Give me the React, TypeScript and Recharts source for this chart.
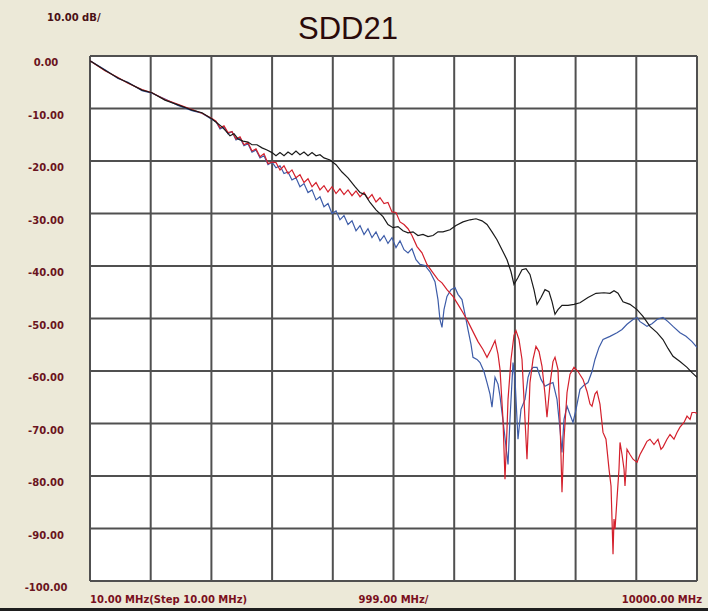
import React from 'react';
import { LineChart, Line, XAxis, YAxis, CartesianGrid } from 'recharts';

// SDD21 sweep, 10 MHz .. 10000 MHz, values in dB

const xGrid = [10, 1009, 2008, 3007, 4006, 5005, 6004, 7003, 8002, 9001, 10000];
const yTicks = [0, -10, -20, -30, -40, -50, -60, -70, -80, -90, -100];
const xLabels = ['10.00 MHz(Step 10.00 MHz)', '999.00 MHz/', '10000.00 MHz'];

const blackTrace: [number, number][] = [
  [10, -0.9], [257, -2.7], [471, -4.2], [635, -5.1], [866, -6.5], [1030, -7.0], [1244, -8.4],
  [1458, -9.3], [1689, -10.3], [1853, -10.8], [2018, -12.0], [2117, -12.9], [2182, -13.5],
  [2248, -14.3], [2314, -15.2], [2380, -14.8], [2446, -15.8], [2528, -16.2], [2610, -16.4],
  [2676, -16.9], [2758, -16.9], [2841, -17.5], [2923, -17.9], [3006, -18.4], [3071, -19.0],
  [3137, -18.4], [3203, -19.0], [3269, -18.3], [3334, -18.8], [3400, -18.1], [3466, -18.8],
  [3532, -18.3], [3598, -19.0], [3664, -18.4], [3730, -19.0], [3795, -18.8], [3861, -19.4],
  [3960, -19.8], [4059, -20.7], [4157, -22.1], [4256, -23.2], [4371, -24.9], [4454, -26.0],
  [4536, -26.4], [4618, -27.9], [4717, -29.3], [4832, -30.6], [4914, -32.1], [4997, -32.7],
  [5079, -32.5], [5161, -33.3], [5244, -33.7], [5326, -33.5], [5408, -34.2], [5490, -34.0],
  [5573, -34.4], [5655, -34.2], [5737, -33.5], [5819, -33.5], [5935, -33.1], [6033, -32.3],
  [6149, -31.6], [6264, -31.2], [6363, -31.0], [6462, -31.4], [6544, -32.1], [6626, -33.5],
  [6708, -35.0], [6791, -36.9], [6873, -38.8], [6939, -41.1], [6988, -43.5], [7054, -42.2],
  [7120, -40.7], [7186, -40.5], [7251, -41.6], [7317, -44.5], [7367, -47.3], [7433, -46.0],
  [7498, -44.5], [7564, -44.9], [7614, -46.8], [7663, -49.2], [7712, -48.3], [7778, -47.5],
  [7877, -47.5], [7976, -47.3], [8074, -47.0], [8206, -46.0], [8338, -45.2], [8469, -45.1],
  [8568, -45.2], [8634, -44.7], [8700, -45.2], [8782, -46.8], [8897, -47.3], [9013, -48.3],
  [9111, -49.6], [9226, -51.5], [9342, -52.7], [9440, -54.0], [9523, -55.7], [9605, -57.2],
  [9720, -58.2], [9836, -59.3], [9918, -60.3], [10000, -61.2],
];

const blueTrace: [number, number][] = [
  [10, -0.9], [257, -2.6], [471, -4.3], [635, -5.0], [866, -6.6], [1030, -7.1], [1244, -8.2],
  [1458, -9.4], [1689, -10.4], [1853, -10.9], [2018, -12.1], [2084, -12.5], [2150, -13.9],
  [2215, -13.5], [2281, -14.8], [2347, -14.4], [2413, -16.0], [2479, -15.6], [2544, -17.1],
  [2610, -16.7], [2676, -18.3], [2742, -17.9], [2808, -19.4], [2874, -19.0], [2940, -20.7],
  [3006, -20.2], [3071, -21.3], [3137, -20.9], [3203, -22.4], [3269, -22.1], [3334, -23.6],
  [3400, -23.2], [3466, -24.9], [3532, -24.3], [3598, -26.0], [3664, -25.5], [3730, -27.4],
  [3795, -26.8], [3861, -28.7], [3927, -28.1], [3993, -30.0], [4059, -29.5], [4124, -31.2],
  [4190, -30.4], [4256, -32.1], [4322, -31.4], [4388, -33.3], [4454, -32.3], [4520, -34.0],
  [4585, -32.9], [4651, -34.6], [4717, -33.5], [4783, -35.2], [4849, -34.2], [4914, -35.7],
  [4980, -34.6], [5046, -36.5], [5112, -35.2], [5178, -36.9], [5244, -37.5], [5309, -36.7],
  [5375, -38.8], [5441, -39.7], [5523, -39.9], [5606, -41.1], [5688, -43.0], [5737, -46.4],
  [5770, -50.2], [5803, -51.7], [5836, -48.3], [5885, -45.8], [5951, -44.5], [6017, -44.1],
  [6066, -45.4], [6132, -46.4], [6182, -49.2], [6231, -52.1], [6280, -54.9], [6313, -57.4],
  [6379, -57.8], [6429, -58.4], [6494, -60.1], [6544, -62.2], [6593, -64.4], [6626, -66.9],
  [6676, -61.2], [6725, -62.5], [6758, -64.8], [6824, -71.1], [6890, -77.8], [6922, -69.2],
  [6972, -58.4], [7005, -61.6], [7054, -73.0], [7103, -67.3], [7169, -65.4], [7219, -61.2],
  [7251, -60.1], [7301, -59.3], [7367, -59.3], [7433, -61.6], [7498, -62.9], [7564, -62.5],
  [7630, -62.2], [7696, -65.4], [7745, -71.1], [7778, -75.5], [7811, -69.2], [7861, -66.7],
  [7910, -68.3], [7959, -69.8], [8009, -67.3], [8074, -63.5], [8140, -62.7], [8206, -62.2],
  [8272, -60.1], [8321, -57.8], [8387, -55.5], [8453, -54.0], [8568, -53.4], [8683, -52.7],
  [8766, -52.1], [8848, -51.1], [8947, -50.2], [9013, -49.8], [9062, -50.6], [9128, -51.1],
  [9177, -51.5], [9259, -51.0], [9342, -50.2], [9440, -49.8], [9523, -50.6], [9605, -51.5],
  [9720, -52.7], [9819, -53.4], [9918, -54.4], [10000, -55.5],
];

const redTrace: [number, number][] = [
  [10, -0.9], [257, -2.8], [471, -4.1], [635, -5.2], [866, -6.4], [1030, -7.0], [1244, -8.3],
  [1458, -9.2], [1689, -10.2], [1853, -10.9], [2018, -11.9], [2084, -12.4], [2150, -13.7],
  [2215, -13.3], [2281, -14.6], [2347, -14.4], [2413, -15.8], [2479, -15.4], [2544, -16.9],
  [2610, -16.5], [2676, -18.1], [2742, -17.7], [2808, -19.2], [2874, -18.6], [2940, -20.5],
  [3006, -20.2], [3071, -20.3], [3137, -21.7], [3203, -20.9], [3269, -22.4], [3334, -21.7],
  [3400, -23.2], [3466, -22.6], [3532, -24.1], [3598, -23.4], [3664, -24.9], [3730, -24.1],
  [3795, -25.5], [3861, -24.7], [3927, -25.9], [3993, -24.9], [4059, -26.2], [4124, -25.3],
  [4190, -26.4], [4256, -25.5], [4322, -26.6], [4388, -25.7], [4454, -26.8], [4520, -26.0],
  [4585, -27.2], [4651, -26.4], [4717, -27.8], [4783, -27.0], [4849, -28.1], [4914, -27.9],
  [4980, -29.7], [5046, -29.8], [5112, -31.6], [5178, -32.1], [5244, -32.9], [5309, -34.2],
  [5392, -36.3], [5474, -37.5], [5556, -39.7], [5655, -41.3], [5737, -42.6], [5803, -43.2],
  [5885, -44.5], [5984, -45.8], [6066, -47.3], [6149, -48.9], [6231, -50.6], [6313, -52.5],
  [6396, -54.4], [6478, -55.9], [6544, -57.4], [6610, -55.9], [6676, -54.2], [6725, -56.8],
  [6758, -59.7], [6807, -69.2], [6840, -80.6], [6873, -71.1], [6890, -65.4], [6939, -57.8],
  [6988, -53.2], [7021, -52.3], [7070, -54.0], [7120, -57.8], [7169, -69.2], [7202, -76.8],
  [7235, -67.3], [7251, -62.2], [7301, -57.8], [7350, -55.3], [7400, -56.3], [7449, -59.1],
  [7498, -64.4], [7531, -68.8], [7581, -62.5], [7630, -58.2], [7663, -57.4], [7712, -59.7],
  [7745, -69.2], [7778, -83.1], [7811, -73.0], [7861, -64.1], [7910, -60.6], [7976, -59.3],
  [8042, -60.1], [8124, -61.6], [8190, -63.9], [8239, -66.3], [8272, -66.7], [8321, -64.4],
  [8354, -63.9], [8403, -66.3], [8453, -71.7], [8502, -73.0], [8552, -78.7], [8585, -81.9],
  [8618, -94.9], [8634, -88.2], [8651, -90.1], [8683, -84.4], [8716, -78.7], [8733, -73.6],
  [8766, -75.9], [8799, -78.7], [8815, -81.9], [8832, -78.7], [8848, -74.9], [8897, -75.9],
  [8947, -76.8], [9013, -77.4], [9062, -75.9], [9128, -74.5], [9177, -73.4], [9226, -73.0],
  [9292, -74.0], [9358, -73.0], [9407, -74.9], [9440, -74.5], [9506, -73.0], [9556, -72.1],
  [9621, -73.0], [9671, -71.7], [9720, -70.7], [9786, -69.8], [9836, -68.6], [9885, -69.2],
  [9918, -67.9], [9967, -67.9], [10000, -68.1],
];

const toRows = (trace: [number, number][]) => trace.map(([f, db]) => ({ f, db }));

const LABEL_FONT = '"DejaVu Sans", Verdana, sans-serif';

const YTick = (props: any) => {
  const { y, payload } = props;
  return (
    <text x={46} y={y + 6.5} textAnchor="middle" dominantBaseline="central"
      fontFamily={LABEL_FONT} fontSize={10} fontWeight="bold" fill="#6a1420">
      {Number(payload.value).toFixed(2)}
    </text>
  );
};

const XTick = (props: any) => {
  const { x, y, index } = props;
  let label = '';
  let anchor = 'middle';
  let dx = 0;
  if (index === 0) { label = xLabels[0]; anchor = 'start'; }
  else if (index === 5) { label = xLabels[1]; }
  else if (index === xGrid.length - 1) { label = xLabels[2]; anchor = 'end'; dx = 5; }
  if (!label) return null;
  return (
    <text x={x + dx} y={y + 10} textAnchor={anchor} dominantBaseline="central"
      fontFamily={LABEL_FONT} fontSize={10} fontWeight="bold" fill="#7a1020">
      {label}
    </text>
  );
};

export default function App() {
  return (
    <div style={{ position: 'absolute', left: 0, top: 0, width: 708, height: 611, background: '#ECE9D8', overflow: 'hidden' }}>
      <LineChart width={708} height={611} margin={{ top: 56, right: 11, left: 0, bottom: 0 }}>
        <CartesianGrid stroke="#505050" strokeWidth={2} fill="#ffffff" />
        <XAxis type="number" dataKey="f" domain={[10, 10000]} ticks={xGrid} height={30}
          axisLine={false} tickLine={false} tick={<XTick />} interval={0} allowDataOverflow />
        <YAxis type="number" dataKey="db" domain={[-100, 0]} ticks={yTicks} width={90}
          axisLine={false} tickLine={false} tick={<YTick />} interval={0} allowDataOverflow />
        <Line data={toRows(blueTrace)} dataKey="db" type="linear" stroke="#3d5ca8" strokeWidth={1.2}
          dot={false} isAnimationActive={false} />
        <Line data={toRows(redTrace)} dataKey="db" type="linear" stroke="#d4202c" strokeWidth={1.2}
          dot={false} isAnimationActive={false} />
        <Line data={toRows(blackTrace)} dataKey="db" type="linear" stroke="#1a1a1a" strokeWidth={1.2}
          dot={false} isAnimationActive={false} />
      </LineChart>
      <svg width={708} height={56} style={{ position: 'absolute', left: 0, top: 0 }}>
        <text x={47} y={17} dominantBaseline="central" fontFamily={LABEL_FONT} fontSize={10}
          fontWeight="bold" fill="#4a1015">10.00 dB/</text>
        <text x={348} y={38.5} textAnchor="middle" fontFamily='"Liberation Sans", Arial, sans-serif'
          fontSize={31} fill="#2a0a0a">SDD21</text>
      </svg>
      <div style={{ position: 'absolute', left: 0, top: 608, width: 708, height: 3, background: '#1e1e1e' }} />
    </div>
  );
}
